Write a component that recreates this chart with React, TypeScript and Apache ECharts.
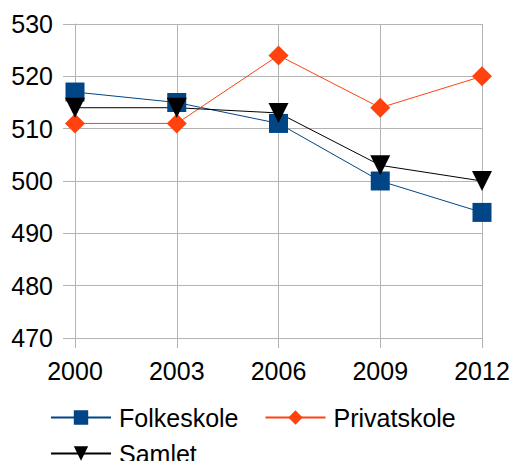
import React, { useEffect, useRef } from "react";
import * as echarts from "echarts";

const years = ["2000", "2003", "2006", "2009", "2012"];
const folkeskole = [517, 515, 511, 500, 494];
const privatskole = [511, 511, 524, 514, 520];
const samlet = [514, 514, 513, 503, 500];

export default function App() {
  const ref = useRef<HTMLDivElement>(null);
  useEffect(() => {
    const chart = echarts.init(ref.current!, null, { renderer: "svg" });
    const font = "'Liberation Sans', Arial, sans-serif";
    chart.setOption({
      animation: false,
      textStyle: { fontFamily: font },
      grid: { left: 75, right: 33, top: 24, bottom: 123, containLabel: false },
      xAxis: {
        type: "category",
        data: years,
        boundaryGap: false,
        axisLine: { lineStyle: { color: "#b3b3b3" } },
        axisTick: { length: 10, lineStyle: { color: "#b3b3b3" } },
        axisLabel: { color: "#000", fontSize: 25, margin: 20, fontFamily: font },
        splitLine: { show: true, lineStyle: { color: "#b3b3b3" } },
      },
      yAxis: {
        type: "value",
        min: 470,
        max: 530,
        interval: 10,
        axisLine: { show: true, lineStyle: { color: "#b3b3b3" } },
        axisTick: { show: true, length: 12, lineStyle: { color: "#b3b3b3" } },
        axisLabel: { color: "#000", fontSize: 25, margin: 22, fontFamily: font },
        splitLine: { show: true, lineStyle: { color: "#b3b3b3" } },
      },
      legend: {
        left: 50,
        top: 405,
        width: 430,
        padding: 0,
        itemWidth: 60,
        itemHeight: 18,
        itemGap: 11,
        textStyle: {
          color: "#000",
          fontSize: 25,
          lineHeight: 24,
          fontFamily: font,
          padding: [0, 15, 0, 3],
        },
        data: ["Folkeskole", "Privatskole", "Samlet"],
      },
      series: [
        {
          name: "Folkeskole",
          type: "line",
          data: folkeskole,
          color: "#004586",
          symbol: "rect",
          symbolSize: 19,
          lineStyle: { width: 1, color: "#004586" },
          itemStyle: { color: "#004586" },
        },
        {
          name: "Privatskole",
          type: "line",
          data: privatskole,
          color: "#ff420e",
          symbol: "diamond",
          symbolSize: [20, 20],
          lineStyle: { width: 1, color: "#ff420e" },
          itemStyle: { color: "#ff420e" },
        },
        {
          name: "Samlet",
          type: "line",
          data: samlet,
          color: "#000000",
          symbol: "triangle",
          symbolRotate: 180,
          symbolSize: [20, 20],
          lineStyle: { width: 1, color: "#000000" },
          itemStyle: { color: "#000000" },
        },
      ],
    });
    return () => chart.dispose();
  }, []);
  return <div ref={ref} style={{ width: 515, height: 461, position: "absolute", left: 0, top: 0 }} />;
}
